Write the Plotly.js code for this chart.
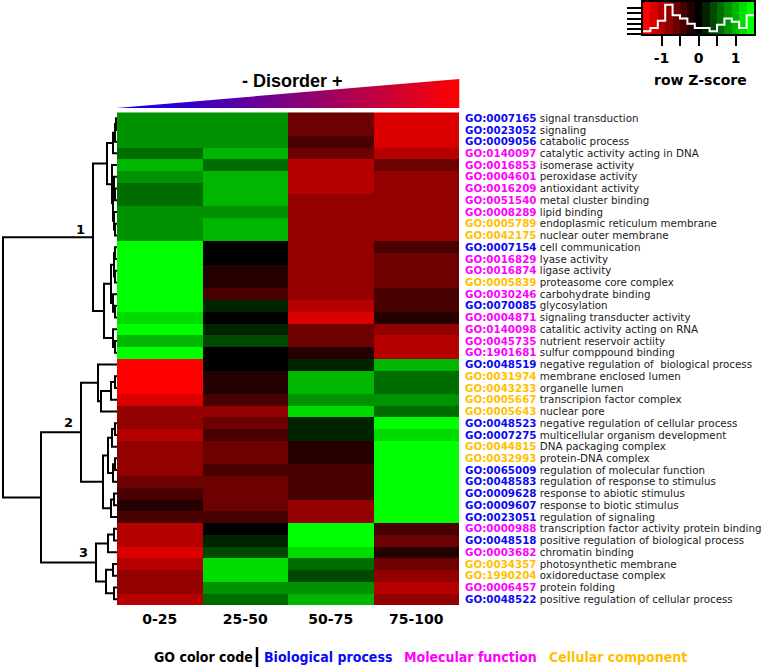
<!DOCTYPE html>
<html><head><meta charset="utf-8">
<script src="https://cdn.plot.ly/plotly-3.0.1.min.js"></script>
<style>html,body{margin:0;padding:0;background:#fff}#chart{width:762px;height:669px}</style>
</head><body><div id="chart"></div>
<script>
// ---------------- DATA ----------------
const columns = ['0-25', '25-50', '50-75', '75-100'];

const goIds = ['GO:0007165','GO:0023052','GO:0009056','GO:0140097','GO:0016853','GO:0004601','GO:0016209',
 'GO:0051540','GO:0008289','GO:0005789','GO:0042175','GO:0007154','GO:0016829','GO:0016874','GO:0005839',
 'GO:0030246','GO:0070085','GO:0004871','GO:0140098','GO:0045735','GO:1901681','GO:0048519','GO:0031974',
 'GO:0043233','GO:0005667','GO:0005643','GO:0048523','GO:0007275','GO:0044815','GO:0032993','GO:0065009',
 'GO:0048583','GO:0009628','GO:0009607','GO:0023051','GO:0000988','GO:0048518','GO:0003682','GO:0034357',
 'GO:1990204','GO:0006457','GO:0048522'];

const goNames = ['signal transduction','signaling','catabolic process','catalytic activity acting in DNA',
 'isomerase activity','peroxidase activity','antioxidant activity','metal cluster binding','lipid binding',
 'endoplasmic reticulum membrane','nuclear outer membrane','cell communication','lyase activity','ligase activity',
 'proteasome core complex','carbohydrate binding','glycosylation','signaling transducter activity',
 'catalitic activity acting on RNA','nutrient reservoir actiity','sulfur comppound binding',
 'negative regulation of  biological process','membrane enclosed lumen','organelle lumen',
 'transcripion factor complex','nuclear pore','negative regulation of cellular process',
 'multicellular organism development','DNA packaging complex','protein-DNA complex',
 'regulation of molecular function','regulation of response to stimulus','response to abiotic stimulus',
 'response to biotic stimulus','regulation of signaling','transcription factor activity protein binding',
 'positive regulation of biological process','chromatin binding','photosynthetic membrane',
 'oxidoreductase complex','protein folding','positive regulation of cellular process'];

// BP = Biological process, MF = Molecular function, CC = Cellular component
const goTypes = ['BP','BP','BP','MF','MF','MF','MF','MF','MF','CC','CC','BP','MF','MF','CC','MF','BP','MF','MF','MF','MF',
 'BP','CC','CC','CC','CC','BP','BP','CC','CC','BP','BP','BP','BP','BP','MF','BP','MF','CC','CC','MF','BP'];

// row Z-scores per disorder class (one value per GO term, top to bottom)
const z_0_25   = [0.8,0.8,0.8,0.6,1.0,0.8,0.6,0.6,0.8,0.8,0.8,1.4,1.4,1.4,1.4,1.4,1.4,1.2,1.4,1.0,1.4,
                  -1.4,-1.4,-1.4,-1.2,-0.8,-0.8,-1.0,-0.8,-0.8,-0.8,-0.6,-0.4,-0.2,-0.4,-1.0,-1.0,-1.2,-1.0,-0.8,-0.8,-1.0];
const z_25_50  = [0.8,0.8,0.8,1.0,0.6,1.0,1.0,1.0,0.8,1.0,1.0,0.0,0.0,-0.2,-0.2,-0.4,0.2,0.0,0.2,0.4,0.0,
                  0.0,-0.2,-0.2,-0.4,-0.8,-0.6,-0.4,-0.6,-0.6,-0.4,-0.6,-0.6,-0.6,-0.4,0.0,0.2,0.4,1.2,1.2,0.8,0.6];
const z_50_75  = [-0.6,-0.6,-0.4,-0.6,-1.0,-1.0,-1.0,-0.8,-0.8,-0.8,-0.8,-0.8,-0.8,-0.8,-0.8,-0.8,-1.0,-1.2,-0.6,-0.6,-0.2,
                  0.2,1.0,1.0,0.8,1.2,0.2,0.2,-0.2,-0.2,-0.4,-0.4,-0.4,-0.8,-0.8,1.4,1.4,1.2,0.6,0.4,0.8,1.0];
const z_75_100 = [-1.2,-1.2,-1.2,-1.0,-0.6,-0.8,-0.8,-0.8,-0.8,-0.8,-0.8,-0.4,-0.6,-0.6,-0.6,-0.4,-0.4,-0.2,-0.8,-1.0,-1.0,
                  1.0,0.6,0.6,0.8,0.6,1.4,1.2,1.4,1.4,1.4,1.4,1.4,1.4,1.4,-0.4,-0.6,-0.2,-0.6,-0.8,-1.0,-0.8];

// row dendrogram: [mergeHeight, left, right], leaves are row indices
const rowTree = [114,
  [24,
    [10, [4, [2, [1, 0, 1], 2], 3], [5, 4, [4, [3, 5, [2, 6, 7]], [3, 8, [2, 9, 10]]]]],
    [13, [6, [3, [2, 11, 12], [2, 13, 14]], [4, 15, [2, 16, 17]]], [4, 18, [2, 19, 20]]]
  ],
  [76,
    [36,
      [19, 21, [16, [6, [2, 22, 23], 24], 25]],
      [14, [9, [5, [2, 26, 27], 28], [4, [2, 29, 30], 31]], [6, [3, 32, 33], 34]]
    ],
    [21, [9, [3, 35, 36], 37], [11, [4, 38, 39], [3, 40, 41]]]
  ]
];
const clusterNames = ['1', '2', '3'];

const keyRange = [-1.5, 1.5];
const keyBins = 15;
const keyTicks = [-1, -0.5, 0, 0.5, 1];
const keyTickText = ['-1', '', '0', '', '1'];

const typeColors = {BP: '#0a0af5', MF: '#ff00ff', CC: '#ffc000'};
const legendItems = [['Biological process', 'BP'], ['Molecular function', 'MF'], ['Cellular component', 'CC']];

// ---------------- BUILD ----------------
const W = 762, H = 669;
const fx = p => p / W, fy = p => 1 - p / H;
const nRows = goIds.length;
const zCols = [z_0_25, z_25_50, z_50_75, z_75_100];
const z = goIds.map((_, i) => zCols.map(c => c[i]));

// discrete red-black-green colour scale
const binW = (keyRange[1] - keyRange[0]) / keyBins;
const binColors = [];
for (let k = 0; k < keyBins; k++) {
  const lvl = k - (keyBins - 1) / 2;
  const v = Math.round(Math.abs(lvl) / ((keyBins - 1) / 2) * 255);
  binColors.push(lvl < 0 ? `rgb(${v},0,0)` : `rgb(0,${v},0)`);
}
const cscale = [];
binColors.forEach((c, k) => { cscale.push([k / keyBins, c]); cscale.push([(k + 1) / keyBins, c]); });

// dendrogram segments
const dx = [], dy = [];
const nodeInfo = new Map();
function walk(n) {
  if (typeof n === 'number') return {y: n, h: 0};
  const a = walk(n[1]), b = walk(n[2]);
  const h = n[0];
  dx.push(a.h, h, h, b.h, null); dy.push(a.y, a.y, b.y, b.y, null);
  const r = {y: (a.y + b.y) / 2, h: h};
  nodeInfo.set(n, r);
  return r;
}
walk(rowTree);
const clusterNodes = [rowTree[1], rowTree[2][1], rowTree[2][2]];
const clusterShift = [[-6, -2], [-6, 0], [-6, 0]];

// histogram of cell values per colour bin
const counts = new Array(keyBins).fill(0);
z.flat().forEach(v => { const k = Math.min(keyBins - 1, Math.max(0, Math.floor((v - keyRange[0]) / binW + 1e-9))); counts[k]++; });
const hx = [], hy = [];
const edges = [];
for (let k = 0; k <= keyBins; k++) edges.push(keyRange[0] + k * binW);
counts.forEach((c, k) => { hx.push(edges[k], edges[k + 1]); hy.push(c, c); });
const binCenters = edges.slice(0, -1).map(e => e + binW / 2);

const tickText = goIds.map((id, i) =>
  `<span style="color:${typeColors[goTypes[i]]}"><b>${id}</b></span> ${goNames[i]}`);

const traces = [
  {type: 'heatmap', x: columns.map((_, j) => j), y: goIds.map((_, i) => i), z: z,
   colorscale: cscale, zmin: keyRange[0], zmax: keyRange[1], showscale: false,
   xaxis: 'x', yaxis: 'y', hoverinfo: 'skip'},
  {type: 'scatter', mode: 'lines', x: dx, y: dy, xaxis: 'x2', yaxis: 'y2',
   line: {color: '#000', width: 2}, hoverinfo: 'skip', cliponaxis: false},
  {type: 'scatter', mode: 'lines', x: [0, 1, 1, 0], y: [0, 0, 1, 0], xaxis: 'x3', yaxis: 'y3',
   fill: 'toself', line: {width: 0},
   fillgradient: {type: 'horizontal', colorscale: [[0, '#0000ff'], [1, '#ff0000']]}, hoverinfo: 'skip'},
  {type: 'heatmap', x: edges, y: [0, 31], z: [binCenters], colorscale: cscale,
   zmin: keyRange[0], zmax: keyRange[1], showscale: false, xaxis: 'x4', yaxis: 'y4', hoverinfo: 'skip'},
  {type: 'scatter', mode: 'lines', x: hx, y: hy, xaxis: 'x4', yaxis: 'y4',
   line: {color: '#fff', width: 2}, hoverinfo: 'skip'}
];

const hmDomX = [fx(117), fx(459)], hmDomY = [fy(605), fy(112.3)];
const yRange = [nRows - 0.5, -0.5];
const legendFont = 'DejaVu Sans Condensed, DejaVu Sans, sans-serif';

const annotations = [
  {text: '<b>- Disorder +</b>', xref: 'paper', yref: 'paper', x: fx(292), y: fy(81),
   xanchor: 'center', yanchor: 'middle', showarrow: false,
   font: {family: 'Liberation Sans, Arial, sans-serif', size: 18, color: '#000'}},
  {text: '<b>row Z-score</b>', xref: 'paper', yref: 'paper', x: fx(700), y: fy(80),
   xanchor: 'center', yanchor: 'middle', showarrow: false,
   font: {family: 'DejaVu Sans', size: 14, color: '#000'}},
  {text: '<b>GO color code</b>', xref: 'paper', yref: 'paper', x: fx(152), y: fy(657),
   xanchor: 'left', yanchor: 'middle', showarrow: false,
   font: {family: legendFont, size: 14, color: '#000'}}
];
const legendX = [262, 402, 547];
legendItems.forEach((it, k) => annotations.push({
  text: `<b>${it[0]}</b>`, xref: 'paper', yref: 'paper', x: fx(legendX[k]), y: fy(657),
  xanchor: 'left', yanchor: 'middle', showarrow: false,
  font: {family: legendFont, size: 14, color: typeColors[it[1]]}}));
clusterNodes.forEach((n, k) => {
  const info = nodeInfo.get(n);
  annotations.push({text: `<b>${clusterNames[k]}</b>`, xref: 'x2', yref: 'y2', x: info.h, y: info.y,
    xanchor: 'right', yanchor: 'bottom', xshift: clusterShift[k][0], yshift: clusterShift[k][1], showarrow: false,
    font: {family: 'DejaVu Sans', size: 13, color: '#000'}});
});

const layout = {
  width: W, height: H, autosize: false, margin: {l: 0, r: 0, t: 0, b: 0},
  paper_bgcolor: '#fff', plot_bgcolor: '#fff', showlegend: false,
  xaxis: {domain: hmDomX, range: [-0.5, columns.length - 0.5], anchor: 'y',
    tickvals: columns.map((_, j) => j), ticktext: columns.map(c => `<b>${c}</b>`),
    tickfont: {family: 'DejaVu Sans', size: 14, color: '#000'}, ticks: 'outside', ticklen: 1,
    tickcolor: 'rgba(0,0,0,0)', showgrid: false, zeroline: false, showline: false, fixedrange: true},
  yaxis: {domain: hmDomY, range: yRange, anchor: 'x', side: 'right',
    tickvals: goIds.map((_, i) => i), ticktext: tickText,
    tickfont: {family: 'DejaVu Sans', size: 10.3, color: '#1a1a1a'}, ticks: 'outside', ticklen: 3,
    tickcolor: 'rgba(0,0,0,0)', showgrid: false, zeroline: false, showline: false, fixedrange: true},
  xaxis2: {domain: [0, fx(117)], range: [117, 0], anchor: 'y2', visible: false, fixedrange: true},
  yaxis2: {domain: hmDomY, range: yRange, anchor: 'x2', visible: false, fixedrange: true},
  xaxis3: {domain: [fx(116.5), fx(459.5)], range: [0, 1], anchor: 'y3', visible: false, fixedrange: true},
  yaxis3: {domain: [fy(108), fy(79)], range: [0, 1], anchor: 'x3', visible: false, fixedrange: true},
  xaxis4: {domain: [fx(643), fx(754)], range: keyRange, anchor: 'y4',
    tickvals: keyTicks, ticktext: keyTickText, ticks: 'outside', ticklen: 10, tickwidth: 2, tickcolor: '#000',
    tickfont: {family: 'DejaVu Sans', size: 14, color: '#000', weight: 'bold'},
    showline: true, mirror: true, linewidth: 2, linecolor: '#000', showgrid: false, zeroline: false, fixedrange: true},
  yaxis4: {domain: [fy(34.3), fy(1.7)], range: [0, 31], anchor: 'x4',
    tickvals: [0, 5, 10, 15, 20, 25], ticks: 'outside', ticklen: 14, tickwidth: 2, tickcolor: '#000',
    showticklabels: false, showline: true, mirror: true, linewidth: 2, linecolor: '#000',
    showgrid: false, zeroline: false, fixedrange: true},
  shapes: [
    {type: 'line', xref: 'paper', yref: 'paper', x0: fx(257), x1: fx(257), y0: fy(647), y1: fy(667),
     line: {color: '#000', width: 2.5}}
  ],
  annotations: annotations
};

Plotly.newPlot('chart', traces, layout, {staticPlot: true, displayModeBar: false});
</script></body></html>
